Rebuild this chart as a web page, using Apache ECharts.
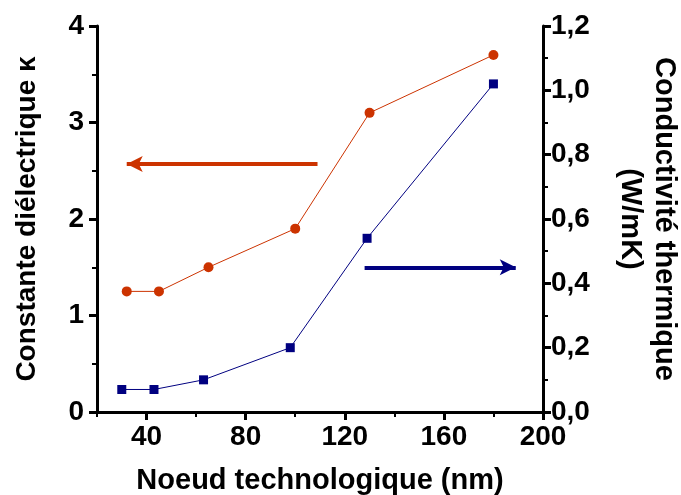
<!DOCTYPE html>
<html><head><meta charset="utf-8">
<script src="https://cdn.jsdelivr.net/npm/echarts@6/dist/echarts.min.js"></script>
<style>html,body{margin:0;padding:0;background:#fff}#c{width:681px;height:495px}</style>
</head><body><div id="c"></div>
<script>
const nodeK = [32, 45, 65, 100, 130, 180];
const kValues = [1.25, 1.25, 1.5, 1.9, 3.1, 3.7];
const nodeTh = [30, 43, 63, 98, 129, 180];
const thValues = [0.07, 0.07, 0.1, 0.2, 0.54, 1.02];
const xLabels = [40, 80, 120, 160, 200];
const redArrow = [[109, 2.57], [32, 2.57]];
const blueArrow = [[128, 0.45], [189, 0.45]];

const RED = '#CC3300', BLUE = '#000080';
const F = 'Liberation Sans, Arial, sans-serif';
const chart = echarts.init(document.getElementById('c'));
const tickLab = {fontFamily: F, fontWeight: 'bold', fontSize: 28, color: '#000'};
chart.setOption({
  animation: false,
  grid: {left: 97, right: 138, top: 26, bottom: 83, outerBoundsMode: 'none', containLabel: false},
  xAxis: [{
    type: 'value', min: 20, max: 200, interval: 20,
    axisLine: {lineStyle: {color: '#000', width: 3}},
    axisTick: {show: true, customValues: xLabels, length: 8, lineStyle: {color: '#000', width: 3}},
    axisLabel: Object.assign({customValues: xLabels, margin: 11}, tickLab),
    splitLine: {show: false},
    name: 'Noeud technologique (nm)', nameLocation: 'middle', nameGap: 54,
    nameTextStyle: {fontFamily: F, fontWeight: 'bold', fontSize: 29, color: '#000'}
  }, {
    type: 'value', min: 20, max: 200, interval: 20, position: 'bottom',
    axisLine: {show: false},
    axisTick: {show: true, length: 5, lineStyle: {color: '#000', width: 2}},
    axisLabel: {show: false}, splitLine: {show: false}
  }],
  yAxis: [{
    type: 'value', min: 0, max: 4, interval: 1, position: 'left',
    axisLine: {show: true, lineStyle: {color: '#000', width: 3}},
    axisTick: {show: true, length: 8, lineStyle: {color: '#000', width: 3}},
    minorTick: {show: true, splitNumber: 2, length: 5, lineStyle: {color: '#000', width: 2}},
    axisLabel: Object.assign({margin: 13}, tickLab),
    splitLine: {show: false},
    name: 'Constante diélectrique κ', nameLocation: 'middle', nameGap: 56,
    nameTextStyle: {fontFamily: F, fontWeight: 'bold', fontSize: 28, color: '#000'}
  }, {
    type: 'value', min: 0, max: 1.2, interval: 0.2, position: 'right',
    axisLine: {show: true, lineStyle: {color: '#000', width: 3}},
    axisTick: {show: true, length: 8, lineStyle: {color: '#000', width: 3}},
    minorTick: {show: true, splitNumber: 2, length: 5, lineStyle: {color: '#000', width: 2}},
    axisLabel: Object.assign({margin: 8, formatter: v => v.toFixed(1).replace('.', ',')}, tickLab),
    splitLine: {show: false},
    name: 'Conductivité thermique\n(W/mK)', nameLocation: 'middle', nameGap: 70, nameRotate: -90,
    nameTextStyle: {fontFamily: F, fontWeight: 'bold', fontSize: 29, color: '#000', lineHeight: 34}
  }],
  series: [{
    type: 'line', xAxisIndex: 0, yAxisIndex: 0,
    data: nodeK.map((x, i) => [x, kValues[i]]),
    symbol: 'circle', symbolSize: 10,
    lineStyle: {color: RED, width: 1}, itemStyle: {color: RED},
    markLine: {
      silent: true, symbol: ['none', 'arrow'], symbolSize: [12, 16],
      label: {show: false},
      lineStyle: {color: RED, width: 4, type: 'solid'},
      data: [[{coord: redArrow[0]}, {coord: redArrow[1]}]]
    }
  }, {
    type: 'line', xAxisIndex: 0, yAxisIndex: 1,
    data: nodeTh.map((x, i) => [x, thValues[i]]),
    symbol: 'rect', symbolSize: 9,
    lineStyle: {color: BLUE, width: 1}, itemStyle: {color: BLUE},
    markLine: {
      silent: true, symbol: ['none', 'arrow'], symbolSize: [12, 16],
      label: {show: false},
      lineStyle: {color: BLUE, width: 4, type: 'solid'},
      data: [[{coord: blueArrow[0]}, {coord: blueArrow[1]}]]
    }
  }]
});
</script></body></html>
